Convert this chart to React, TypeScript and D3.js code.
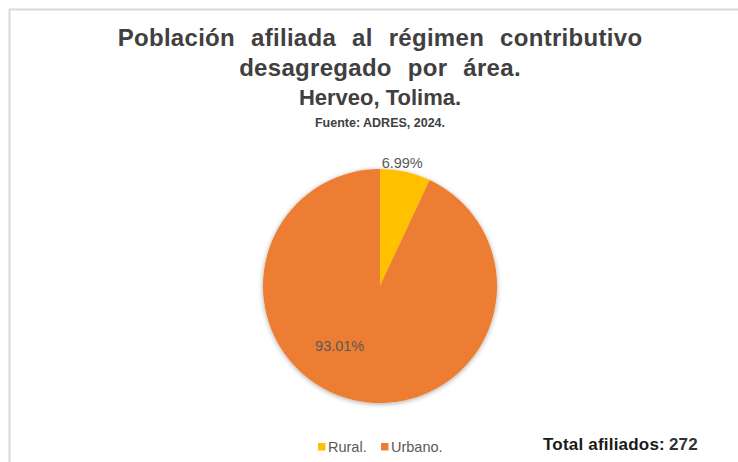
import React from "react";
import * as d3 from "d3";

const categories = ["Rural.", "Urbano."];
const values = [19, 253];
const labels = ["6.99%", "93.01%"];
const colors = ["#FFC000", "#ED7D31"];
const titleLines = ["Población afiliada al régimen contributivo", "desagregado por área.", "Herveo, Tolima."];
const subtitle = "Fuente: ADRES, 2024.";
const totalLabel = "Total afiliados:";
const totalValue = "272";

export default function App() {
  const W = 738, H = 462;
  const cx = 380, cy = 286, r = 117;
  const pie = d3.pie<number>().sort(null).value((d) => d);
  const arcs = pie(values);
  const arcGen = d3.arc<d3.PieArcDatum<number>>().innerRadius(0).outerRadius(r);
  const outer = d3.arc<any>().innerRadius(r + 8).outerRadius(r + 8);
  const inner = d3.arc<any>().innerRadius(r * 0.62).outerRadius(r * 0.62);
  const p0 = outer.centroid(arcs[0]);
  // Excel-style inside label, rotated slightly toward lower-left
  const a1 = { ...arcs[1], startAngle: arcs[1].startAngle + 0.37, endAngle: arcs[1].endAngle + 0.37 };
  const p1 = inner.centroid(a1);
  const font = "'Liberation Sans', Arial, sans-serif";
  const titleStyles = [
    { size: 24, ls: 0.3, ws: 9, y: 46 },
    { size: 24, ls: 0.3, ws: 9, y: 76 },
    { size: 22, ls: 0, ws: 0, y: 105 },
  ];
  return (
    <svg width={W} height={H} style={{ position: "absolute", left: 0, top: 0 }} fontFamily={font}>
      <defs>
        <filter id="sh" x="-20%" y="-20%" width="140%" height="140%">
          <feGaussianBlur in="SourceAlpha" stdDeviation="2.5" />
          <feOffset dx="0" dy="1" />
          <feComponentTransfer><feFuncA type="linear" slope="0.35" /></feComponentTransfer>
          <feMerge><feMergeNode /><feMergeNode in="SourceGraphic" /></feMerge>
        </filter>
      </defs>
      <rect x={0} y={0} width={W} height={H} fill="#fff" />
      <rect x={9.5} y={9.5} width={W + 20} height={H + 20} fill="#fff" stroke="#d9d9d9" strokeWidth={2} />
      {titleLines.map((t, i) => (
        <text key={i} x={380} y={titleStyles[i].y} textAnchor="middle" fontSize={titleStyles[i].size}
          letterSpacing={titleStyles[i].ls} wordSpacing={titleStyles[i].ws} fontWeight="bold" fill="#404040">{t}</text>
      ))}
      <text x={380} y={127} textAnchor="middle" fontSize={12.5} fontWeight="bold" fill="#404040">{subtitle}</text>
      <g transform={`translate(${cx},${cy})`} filter="url(#sh)">
        {arcs.map((a, i) => (
          <path key={i} d={arcGen(a) || ""} fill={colors[i]} />
        ))}
      </g>
      <text x={cx + p0[0] - 5} y={cy + p0[1] + 4} textAnchor="middle" fontSize={14.5} fill="#595959">{labels[0]}</text>
      <text x={cx + p1[0]} y={cy + p1[1] + 5} textAnchor="middle" fontSize={14.5} fill="#595959">{labels[1]}</text>
      <g fontSize={14.5} fill="#595959">
        <rect x={318} y={443} width={7.5} height={7.5} fill={colors[0]} />
        <text x={328} y={452}>{categories[0]}</text>
        <rect x={381} y={443} width={7.5} height={7.5} fill={colors[1]} />
        <text x={391} y={452}>{categories[1]}</text>
      </g>
      <text x={543} y={450} fontSize={17} fill="#1a1a1a" letterSpacing={0.2}>
        <tspan fontWeight="bold">{totalLabel}</tspan>
        <tspan dx={4} fontWeight="bold" fill="#333">{totalValue}</tspan>
      </text>
    </svg>
  );
}
